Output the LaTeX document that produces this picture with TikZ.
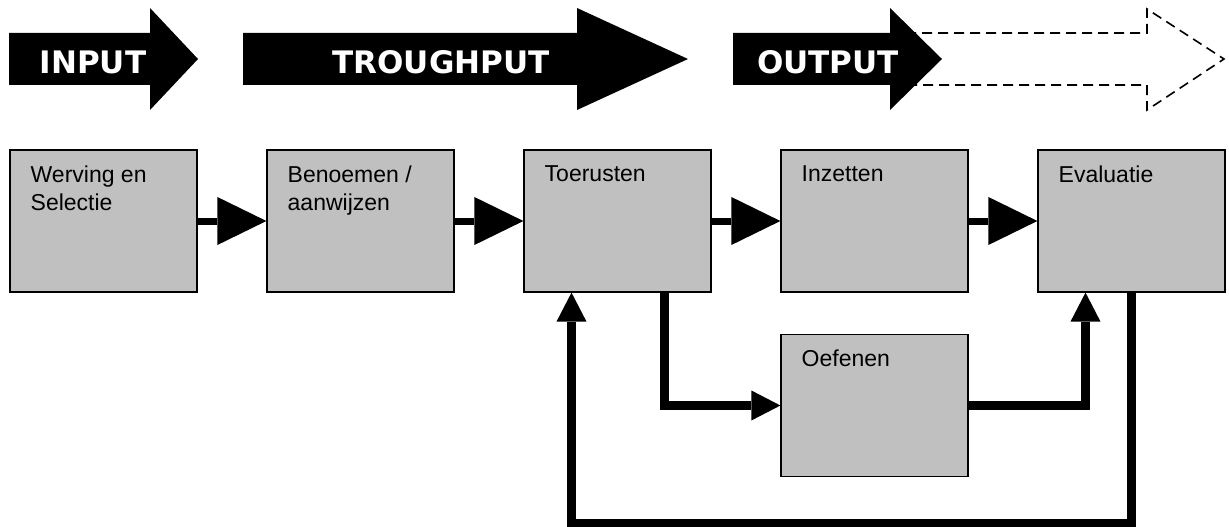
\documentclass[tikz,border=0pt]{standalone}
\usepackage{fontspec}
\setmainfont{Liberation Sans}
\newfontfamily\bannerfont{DejaVu Sans}
\usepackage{tikz}
\usetikzlibrary{arrows.meta}
\usepackage{xcolor}
\definecolor{boxgray}{RGB}{192,192,192}

\begin{document}
\begin{tikzpicture}[x=1pt,y=-1pt,node distance=257pt,semithick]
  \tikzstyle{stage}=[draw,fill=boxgray,line width=1.2pt,minimum width=187pt,minimum height=142pt,inner sep=0pt]
  \tikzstyle{stagelabel}=[anchor=north west,align=left,inner sep=0pt,xshift=21pt,yshift=-16pt,font=\fontsize{23}{28}\selectfont]
  \tikzstyle{banner}=[anchor=base,text=white,inner sep=0pt,font=\bannerfont\bfseries\fontsize{31}{31}\selectfont]
  \tikzstyle{flow}=[line width=7pt,-{Triangle[length=49pt,width=48pt,line width=0pt]}]
  \tikzstyle{back}=[line width=9pt,-{Triangle[length=29pt,width=30pt,line width=0pt]}]

  \useasboundingbox (0,0) rectangle (1229,527);

  % phase arrows
  \draw[dash pattern=on 10pt off 6pt,line width=1.6pt] (890,33) -- (1147,33) -- (1147,9)
        -- (1224,59) -- (1147,110) -- (1147,85) -- (890,85);
  \fill (9,33) -- (150,33) -- (150,8) -- (198,59) -- (150,110) -- (150,85) -- (9,85) -- cycle;
  \fill (243,33) -- (577,33) -- (577,8) -- (688,59) -- (577,110) -- (577,85) -- (243,85) -- cycle;
  \fill (733,33) -- (890,33) -- (890,8) -- (942,59) -- (890,110) -- (890,85) -- (733,85) -- cycle;

  \node[banner] (in)   at (93,74)  {INPUT};
  \node[banner] (thru) at (441,74) {TROUGHPUT};
  \node[banner] (out)  at (828,74) {OUTPUT};

  % stages
  \node[stage,label={[stagelabel]north west:Werving en\\Selectie}] (W) at (103.5,221) {};
  \node[stage,label={[stagelabel]north west:Benoemen /\\aanwijzen}] (B) [right of=W] {};
  \node[stage,label={[stagelabel]north west:Toerusten}]              (T) [right of=B] {};
  \node[stage,label={[stagelabel]north west:Inzetten}]               (I) [right of=T] {};
  \node[stage,label={[stagelabel]north west:Evaluatie}]              (E) [right of=I] {};
  \node[stage,label={[stagelabel]north west:Oefenen}]                (O) [below of=I, node distance=184.5pt] {};

  \draw[flow] (W) -- (B);
  \draw[flow] (B) -- (T);
  \draw[flow] (T) -- (I);
  \draw[flow] (I) -- (E);

  \draw[back] ([xshift=47pt]T.south) |- (O);
  \draw[back] (O) -| ([xshift=-46pt]E.south);
  \draw[back] (E.south) -- ++(0,231) -| ([xshift=-46pt]T.south);
\end{tikzpicture}
\end{document}
